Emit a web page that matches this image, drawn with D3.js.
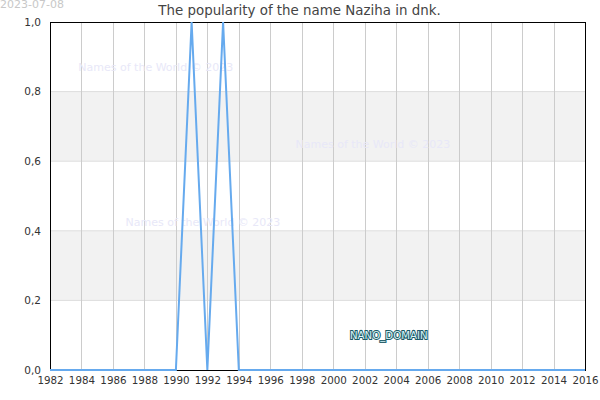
<!DOCTYPE html>
<html><head><meta charset="utf-8">
<script src="https://cdn.jsdelivr.net/npm/d3@7"></script>
<style>body{margin:0;background:#fff;}svg{display:block;font-family:"DejaVu Sans",sans-serif;}</style>
</head><body>
<svg id="c" width="600" height="400"></svg>
<script>
const years = [1982,1983,1984,1985,1986,1987,1988,1989,1990,1991,1992,1993,1994,1995,1996,1997,1998,1999,2000,2001,2002,2003,2004,2005,2006,2007,2008,2009,2010,2011,2012,2013,2014,2015,2016];
const values = [0,0,0,0,0,0,0,0,0,1,0,1,0,0,0,0,0,0,0,0,0,0,0,0,0,0,0,0,0,0,0,0,0,0,0];
const xTicks = [1982,1984,1986,1988,1990,1992,1994,1996,1998,2000,2002,2004,2006,2008,2010,2012,2014,2016];
const yTicks = [0,0.2,0.4,0.6,0.8,1.0];
const bands = [[0.2,0.4],[0.6,0.8]];
const titleText = "The popularity of the name Naziha in dnk.";
const dateText = "2023-07-08";
const watermark = "Names of the World © 2023";
const watermarkPos = [[1983.8,0.87],[1997.6,0.65],[1986.8,0.425]];

const svg = d3.select("#c");
const L=50,R=585,T=22,B=370;
const x = d3.scaleLinear().domain([1982,2016]).range([L,R]);
const y = d3.scaleLinear().domain([0,1]).range([B,T]);

svg.selectAll("rect.band").data(bands).enter().append("rect")
  .attr("x",L).attr("width",R-L)
  .attr("y",d=>y(d[1])).attr("height",d=>y(d[0])-y(d[1]))
  .attr("fill","#f2f2f2");

svg.selectAll("line.hg").data(yTicks.slice(1,-1)).enter().append("line")
  .attr("x1",L).attr("x2",R).attr("y1",d=>y(d)).attr("y2",d=>y(d))
  .attr("stroke","#dddddd").attr("stroke-width",1);

svg.selectAll("line.vg").data(xTicks.slice(1,-1)).enter().append("line")
  .attr("x1",d=>Math.round(x(d))+0.5).attr("x2",d=>Math.round(x(d))+0.5).attr("y1",T).attr("y2",B)
  .attr("stroke","#cccccc").attr("stroke-width",1);

// watermarks
svg.selectAll("text.wm").data(watermarkPos).enter().append("text")
  .attr("x",d=>x(d[0])).attr("y",d=>y(d[1])+4)
  .attr("font-size",11).attr("fill","#e8e8f8").text(watermark);

// frame
svg.append("rect").attr("x",L+0.5).attr("y",T+0.5).attr("width",R-L).attr("height",B-T)
  .attr("fill","none").attr("stroke","#000").attr("stroke-width",1);

// line
const line = d3.line().x((d,i)=>x(years[i])).y(d=>y(d));
svg.append("path").datum(values).attr("d",line)
  .attr("fill","none").attr("stroke","#66aaee").attr("stroke-width",2);

// axes
const fmt = d3.formatLocale({decimal:",",thousands:".",grouping:[3],currency:["","€"]}).format(".1f");
const ya = svg.append("g").attr("transform",`translate(${L},0)`)
  .call(d3.axisLeft(y).tickValues(yTicks).tickFormat(fmt).tickSize(0).tickPadding(9));
ya.select(".domain").remove();
ya.selectAll("text").attr("font-size",10.5).attr("fill","#333").attr("font-family","DejaVu Sans");

const xa = svg.append("g").attr("transform",`translate(0,${B})`)
  .call(d3.axisBottom(x).tickValues(xTicks).tickFormat(d3.format("d")).tickSize(0).tickPadding(7));
xa.select(".domain").remove();
xa.selectAll("text").attr("font-size",10.3).attr("fill","#333").attr("font-family","DejaVu Sans");

svg.append("text").attr("x",299.5).attr("y",15).attr("text-anchor","middle")
  .attr("font-size",13.4).attr("fill","#444").text(titleText);
svg.append("text").attr("x",0).attr("y",8).attr("font-size",11).attr("fill","#c8c8c8").text(dateText);

svg.append("text").attr("x",x(2001)+1).attr("y",y(0.1)+4)
  .attr("font-size",10.2).attr("fill","#d8f4f8")
  .attr("stroke","#1a5a66").attr("stroke-width",2).attr("paint-order","stroke")
  .text("NANO_DOMAIN");
</script>
</body></html>
